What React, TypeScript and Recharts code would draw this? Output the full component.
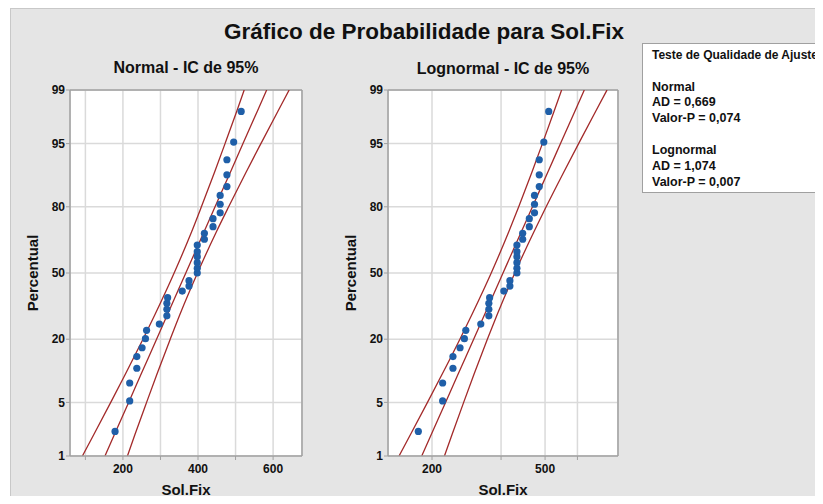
import { ComposedChart, Line, Scatter, XAxis, YAxis, CartesianGrid, ReferenceLine } from "recharts";

// valores de Sol.Fix (ordenados) e percentuais
const solFix = [
  179, 218, 218, 237, 237, 251, 260, 263, 297, 317, 317, 317, 319, 358, 376, 376, 398,
  398, 398, 398, 398, 398, 417, 417, 440, 440, 459, 459, 459, 477, 477, 477, 495, 515,
];
const percentis = [
  2.2, 5.2, 8.1, 11.3, 14.4, 17.1, 20.2, 23.3, 25.8, 29.3, 32.2, 35.0, 37.7, 40.9, 43.4, 46.1, 50.0,
  52.4, 55.2, 58.2, 60.7, 63.9, 66.6, 69.3, 72.2, 75.5, 77.8, 80.9, 83.8, 86.4, 89.4, 92.5, 95.2, 98.0,
];

// linha ajustada e IC de 95% (lidos em alguns percentuais)
const bandPct = [1, 2, 5, 10, 20, 30, 50, 70, 80, 90, 95, 98, 99];
const normalLow = [92, 122.5, 167.5, 207, 253.4, 285.7, 336.4, 383, 409, 444, 472, 503, 523];
const normalFit = [152.1, 177.3, 215.2, 248.8, 289.6, 318.9, 367.5, 416.1, 445.4, 486.2, 519.8, 557.7, 582.9];
const normalHigh = [212, 232, 263, 291, 326, 352, 398.6, 449, 481.6, 528, 567.5, 612.5, 642.8];
const lognLow = [153.1, 168, 192.8, 217.5, 250.7, 276.7, 323.2, 372.6, 403.9, 449.4, 489.3, 537.5, 571.8];
const lognFit = [184, 198.8, 223.2, 247.4, 280.3, 306.6, 355.6, 412.5, 451.4, 511.1, 566.6, 636.2, 687.2];
const lognHigh = [221.2, 235.3, 258.5, 281.5, 313.2, 339.5, 391.3, 456.9, 504.4, 581.6, 656.2, 753, 826];

const yTickPct = [1, 5, 20, 50, 80, 95, 99];
const normalTicks = [100, 200, 300, 400, 500, 600];
const normalLabels = [200, 400, 600];
const lognTicks = [200, 350, 500, 650];
const lognLabels = [200, 500];

const DOT = "#1f5fa8";
const RED = "#a32a2a";
const BORDER = "#a0a0a0";
const FONT = '"Liberation Sans", Arial, sans-serif';

// inversa da normal padrão (Acklam) -> escala de probabilidade
function probit(p: number): number {
  const a = [-39.69683028665376, 220.9460984245205, -275.9285104469687, 138.357751867269, -30.66479806614716, 2.506628277459239];
  const b = [-54.47609879822406, 161.5858368580409, -155.6989798598866, 66.80131188771972, -13.28068155288572];
  const c = [-0.007784894002430293, -0.3223964580411365, -2.400758276161838, -2.549671348283223, 4.374664141464968, 2.938163982698783];
  const d = [0.007784695709041462, 0.3224671290700398, 2.445134137142996, 3.754408661907416];
  const pl = 0.02425;
  if (p < pl) {
    const q = Math.sqrt(-2 * Math.log(p));
    return (((((c[0] * q + c[1]) * q + c[2]) * q + c[3]) * q + c[4]) * q + c[5]) / ((((d[0] * q + d[1]) * q + d[2]) * q + d[3]) * q + 1);
  }
  if (p > 1 - pl) {
    const q = Math.sqrt(-2 * Math.log(1 - p));
    return -(((((c[0] * q + c[1]) * q + c[2]) * q + c[3]) * q + c[4]) * q + c[5]) / ((((d[0] * q + d[1]) * q + d[2]) * q + d[3]) * q + 1);
  }
  const q = p - 0.5;
  const r = q * q;
  return ((((((a[0] * r + a[1]) * r + a[2]) * r + a[3]) * r + a[4]) * r + a[5]) * q) / (((((b[0] * r + b[1]) * r + b[2]) * r + b[3]) * r + b[4]) * r + 1);
}

const yTicks = yTickPct.map((p) => probit(p / 100));
const zMin = yTicks[0];
const zMax = yTicks[yTicks.length - 1];

const points = solFix.map((x, i) => ({ x, z: probit(percentis[i] / 100) }));
const toLine = (xs: number[]) => bandPct.map((p, i) => ({ x: xs[i], z: probit(p / 100) }));

const tickStyle = { fontSize: 12, fontWeight: 700, fill: "#111", fontFamily: FONT };
const labelStyle = { fontSize: 15, fontWeight: 700, fill: "#111", fontFamily: FONT, textAnchor: "middle" as const };

type PanelProps = {
  left: number;
  width: number;
  marginRight: number;
  scale: "linear" | "log";
  domain: [number, number];
  ticks: number[];
  labels: number[];
  fit: number[];
  low: number[];
  high: number[];
};

function Panel({ left, width, marginRight, scale, domain, ticks, labels, fit, low, high }: PanelProps) {
  return (
    <div style={{ position: "absolute", left, top: 80 }}>
      <ComposedChart width={width} height={420} margin={{ top: 10, right: marginRight, bottom: 0, left: 0 }}>
        <CartesianGrid stroke="#dadada" strokeWidth={1.5} fill="#fff" />
        <XAxis
          dataKey="x"
          type="number"
          scale={scale}
          domain={domain}
          allowDataOverflow
          ticks={ticks}
          interval={0}
          tickFormatter={(v: number) => (labels.includes(v) ? String(v) : "")}
          tick={tickStyle}
          tickSize={4}
          tickMargin={4}
          height={44}
          axisLine={{ stroke: BORDER, strokeWidth: 1.5 }}
          tickLine={{ stroke: BORDER }}
          label={{ value: "Sol.Fix", position: "insideBottom", offset: 5, style: labelStyle }}
        />
        <YAxis
          dataKey="z"
          type="number"
          domain={[zMin, zMax]}
          allowDataOverflow
          ticks={yTicks}
          interval={0}
          tickFormatter={(_v: number, i: number) => String(yTickPct[i])}
          tick={tickStyle}
          tickSize={4}
          tickMargin={1}
          width={50}
          axisLine={{ stroke: BORDER, strokeWidth: 1.5 }}
          tickLine={{ stroke: BORDER }}
          label={{ value: "Percentual", angle: -90, position: "insideLeft", offset: 13, style: labelStyle }}
        />
        <ReferenceLine y={zMax} stroke={BORDER} strokeWidth={1.5} />
        <ReferenceLine x={domain[1]} stroke={BORDER} strokeWidth={1.5} />
        <Line data={toLine(low)} dataKey="z" type="monotone" stroke={RED} strokeWidth={1.3} dot={false} isAnimationActive={false} />
        <Line data={toLine(fit)} dataKey="z" type="monotone" stroke={RED} strokeWidth={1.3} dot={false} isAnimationActive={false} />
        <Line data={toLine(high)} dataKey="z" type="monotone" stroke={RED} strokeWidth={1.3} dot={false} isAnimationActive={false} />
        <Scatter
          data={points}
          dataKey="z"
          isAnimationActive={false}
          shape={(p: any) => <circle cx={p.cx} cy={p.cy} r={3.6} fill={DOT} />}
        />
      </ComposedChart>
    </div>
  );
}

const legendLines = [
  { text: "Teste de Qualidade de Ajuste", y: 55, size: 12 },
  { text: "Normal", y: 87, size: 12.5 },
  { text: "AD = 0,669", y: 102, size: 12.5 },
  { text: "Valor-P = 0,074", y: 118, size: 12.5 },
  { text: "Lognormal", y: 150, size: 12.5 },
  { text: "AD = 1,074", y: 166, size: 12.5 },
  { text: "Valor-P = 0,007", y: 182, size: 12.5 },
];

export default function App() {
  return (
    <div style={{ position: "relative", width: 823, height: 504, margin: -8, background: "#fff", overflow: "hidden", fontFamily: FONT, color: "#111" }}>
      <div style={{ position: "absolute", left: 10, top: 8, width: 830, height: 520, background: "#e5e5e5", border: "1px solid #c8c8c8" }} />
      <div style={{ position: "absolute", left: 124, width: 600, top: 19, lineHeight: "26px", fontSize: 22.5, fontWeight: 700, textAlign: "center" }}>
        Gráfico de Probabilidade para Sol.Fix
      </div>
      <div style={{ position: "absolute", left: 86, width: 200, top: 58, lineHeight: "20px", fontSize: 16, fontWeight: 700, textAlign: "center" }}>
        Normal - IC de 95%
      </div>
      <div style={{ position: "absolute", left: 403, width: 200, top: 59, lineHeight: "20px", fontSize: 16, fontWeight: 700, textAlign: "center" }}>
        Lognormal - IC de 95%
      </div>
      <Panel left={20} width={300} marginRight={18} scale="linear" domain={[59, 677]} ticks={normalTicks} labels={normalLabels} fit={normalFit} low={normalLow} high={normalHigh} />
      <Panel left={338} width={285} marginRight={5} scale="log" domain={[140, 903]} ticks={lognTicks} labels={lognLabels} fit={lognFit} low={lognLow} high={lognHigh} />
      <div style={{ position: "absolute", left: 642, top: 43, width: 200, height: 148, background: "#fff", border: `1px solid ${BORDER}` }} />
      {legendLines.map((l) => (
        <div key={l.text} style={{ position: "absolute", left: 652, top: l.y - 8, lineHeight: "16px", fontSize: l.size, fontWeight: 700, whiteSpace: "nowrap" }}>
          {l.text}
        </div>
      ))}
    </div>
  );
}
